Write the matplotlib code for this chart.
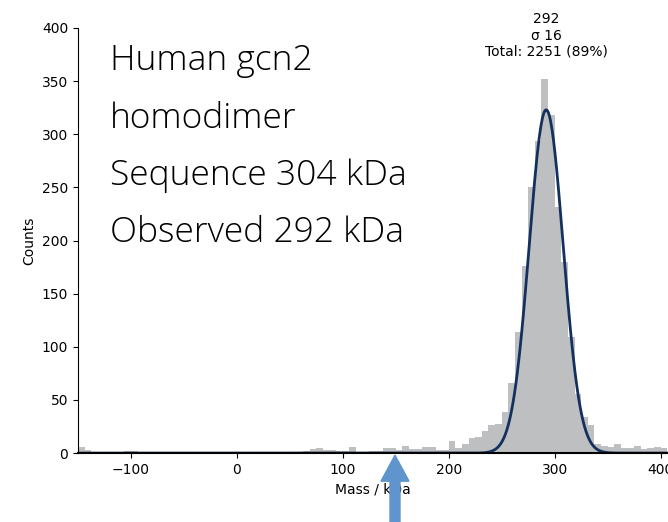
import numpy as np
import matplotlib
matplotlib.use("Agg")
import matplotlib.pyplot as plt
from matplotlib.patches import FancyArrow

# histogram counts, bins of 6.25 kDa starting at -156.25 kDa
bin_start = -156.25
bin_width = 6.25
counts = [4, 6, 3, 0, 1, 1, 0, 0, 2, 2, 1, 1,
          0, 0, 0, 0, 0, 0, 0, 0, 0, 0, 0, 0, 0, 0, 0, 0, 0, 0, 0, 0, 0, 0, 0,
          2, 4, 5, 3, 3, 2, 2, 6, 1, 0, 2, 2, 5, 5, 3, 7, 4, 4, 6, 6, 3, 3,
          11, 5, 9, 14, 15, 21, 26, 27, 39, 66, 114, 176, 250, 294, 352,
          318, 232, 180, 109, 56, 34, 26, 9, 7, 6, 9, 5, 5, 7, 4, 5, 6, 5]

# gaussian fit
fit_mu = 292
fit_sigma = 16
fit_amp = 323
fit_total = 2251
fit_pct = 89

notes = ["Human gcn2", "homodimer", "Sequence 304 kDa", "Observed 292 kDa"]

fig = plt.figure(figsize=(6.68, 5.22), dpi=100)
ax = fig.add_axes([0.1168, 0.132, 0.8832, 0.8144])

edges = bin_start + bin_width * np.arange(len(counts))
ax.bar(edges, counts, width=bin_width, align='edge', color='#bebfc1', linewidth=0)

xs = np.linspace(-150, 407, 800)
ax.plot(xs, fit_amp * np.exp(-(xs - fit_mu) ** 2 / (2 * fit_sigma ** 2)),
        color='#14305e', lw=2)

ax.text(fit_mu, 371, f"{fit_mu}\n\u03c3 {fit_sigma}\nTotal: {fit_total} ({fit_pct}%)",
        ha='center', va='bottom', fontsize=10, linespacing=1.2, clip_on=False)

ax.set_xlim(-150, 407)
ax.set_ylim(0, 400)
ax.set_xticks([-100, 0, 100, 200, 300, 400])
ax.set_yticks(range(0, 401, 50))
ax.tick_params(labelsize=10)
ax.set_xlabel("Mass / kDa", fontsize=10)
ax.set_ylabel("Counts", fontsize=10)
ax.spines['top'].set_visible(False)
ax.spines['right'].set_visible(False)
ax.spines['bottom'].set_linewidth(1.5)

# handwritten-style notes
for i, line in enumerate(notes):
    fig.text(110 / 668, 1 - (70 + 57.5 * i) / 522, line, fontsize=25.5,
             family='Open Sans', fontweight='light', ha='left', va='baseline')

# blue arrow under the axis
fig.add_artist(FancyArrow(395 / 668, 0.0, 0, 0.128, width=10 / 668,
                          head_width=28 / 668, head_length=26 / 522,
                          length_includes_head=True, color='#6094cc',
                          transform=fig.transFigure))

fig.savefig("out.png", dpi=100)
